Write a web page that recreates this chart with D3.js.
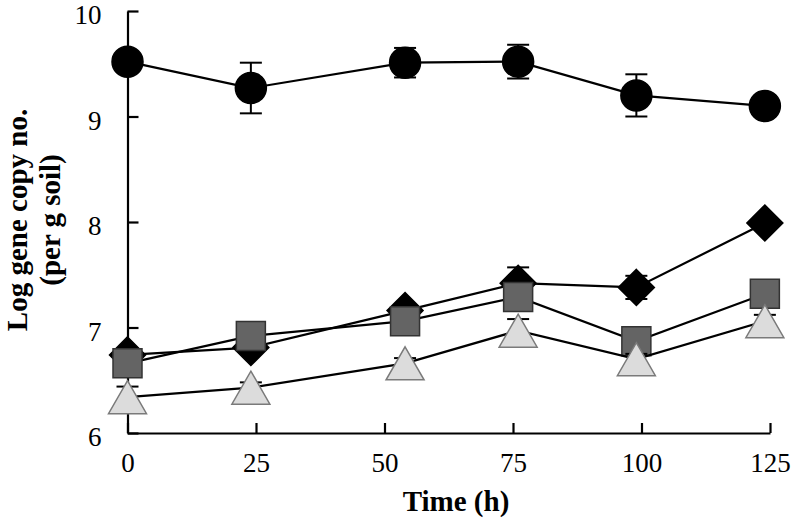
<!DOCTYPE html>
<html>
<head>
<meta charset="utf-8">
<script src="https://cdn.jsdelivr.net/npm/d3@7"></script>
<style>
  html, body { margin: 0; padding: 0; background: #fff; }
  svg { display: block; }
</style>
</head>
<body>
<svg id="chart" width="792" height="522"></svg>
<script>
// ---- data ----
const times = [0, 24, 54, 76, 99, 124];
const xTicks = [0, 25, 50, 75, 100, 125];
const yTicks = [6, 7, 8, 9, 10];

const circleVals = [9.52, 9.27, 9.51, 9.52, 9.20, 9.10];
const circleErr  = [0.05, 0.24, 0.14, 0.16, 0.20, 0.05];

const diamondVals = [6.74, 6.81, 7.16, 7.42, 7.38, 7.99];
const diamondErr  = [0.05, 0.05, 0.05, 0.15, 0.11, 0.05];

const squareVals = [6.66, 6.92, 7.06, 7.29, 6.87, 7.32];
const squareErr  = [0.05, 0.05, 0.05, 0.05, 0.05, 0.05];

const triangleVals = [6.34, 6.43, 6.66, 6.97, 6.70, 7.06];
const triangleErr  = [0.10, 0.05, 0.05, 0.11, 0.05, 0.06];

const xLabel = "Time (h)";
const yLabel1 = "Log gene copy no.";
const yLabel2 = "(per g soil)";

// ---- layout ----
const svg = d3.select("#chart");
const x = d3.scaleLinear().domain([0, 125]).range([127.5, 770]);
const y = d3.scaleLinear().domain([6, 10]).range([433, 11]);
const font = "'Liberation Serif', 'Times New Roman', serif";

// axes
const xAxis = d3.axisBottom(x).tickValues(xTicks).tickFormat(d3.format("d"))
  .tickSizeInner(-10).tickSizeOuter(0).tickPadding(20);
const yAxis = d3.axisLeft(y).tickValues(yTicks).tickFormat(d3.format("d"))
  .tickSizeInner(-11).tickSizeOuter(0).tickPadding(26);

const gx = svg.append("g").attr("transform", `translate(0,${y(6)})`).call(xAxis);
const gy = svg.append("g").attr("transform", `translate(${x(0)},0)`).call(yAxis);
[gx, gy].forEach(g => {
  g.selectAll("path.domain").attr("stroke", "#000").attr("stroke-width", 2.2);
  g.selectAll(".tick line").attr("stroke", "#000").attr("stroke-width", 2.2);
  g.selectAll(".tick text").attr("font-family", font).attr("font-size", 27).attr("fill", "#000");
});
gx.selectAll(".tick text").attr("dy", "0.71em");
gy.selectAll(".tick text").attr("dy", "0.47em");

// axis titles
svg.append("text")
  .attr("x", 456).attr("y", 511)
  .attr("text-anchor", "middle")
  .attr("font-family", font).attr("font-size", 29).attr("font-weight", "bold")
  .text(xLabel);

const yt = svg.append("g").attr("transform", "translate(0,220) rotate(-90)");
yt.append("text").attr("x", 0).attr("y", 27).attr("text-anchor", "middle")
  .attr("font-family", font).attr("font-size", 29).attr("font-weight", "bold").text(yLabel1);
yt.append("text").attr("x", 0).attr("y", 60).attr("text-anchor", "middle")
  .attr("font-family", font).attr("font-size", 29).attr("font-weight", "bold").text(yLabel2);

// ---- series ----
const series = [
  { vals: circleVals, err: circleErr, shape: "circle", fill: "#000", stroke: "#000" },
  { vals: diamondVals, err: diamondErr, shape: "diamond", fill: "#000", stroke: "#000" },
  { vals: squareVals, err: squareErr, shape: "square", fill: "#646464", stroke: "#333" },
  { vals: triangleVals, err: triangleErr, shape: "triangle", fill: "#dcdcdc", stroke: "#7a7a7a" }
];

function shapePath(shape) {
  if (shape === "circle") return "M-15.5,0A15.5,15.5 0 1,0 15.5,0A15.5,15.5 0 1,0 -15.5,0Z";
  if (shape === "diamond") return "M0,-18L18,0L0,18L-18,0Z";
  if (shape === "square") return "M-14.5,-14.5H14.5V14.5H-14.5Z";
  if (shape === "triangle") return "M0,-16.5L19,16.5L-19,16.5Z";
}

const line = d3.line().x((d, i) => x(times[i])).y(d => y(d));
const cap = 11;

series.forEach(s => {
  const g = svg.append("g");
  g.append("path").datum(s.vals).attr("d", line)
    .attr("fill", "none").attr("stroke", "#000").attr("stroke-width", 2.2);

  const eb = g.append("g");
  s.vals.forEach((v, i) => {
    const cx = x(times[i]);
    const y1 = y(v + s.err[i]), y2 = y(v - s.err[i]);
    eb.append("line").attr("x1", cx).attr("x2", cx).attr("y1", y1).attr("y2", y2)
      .attr("stroke", "#000").attr("stroke-width", 2);
    [y1, y2].forEach(yy => eb.append("line")
      .attr("x1", cx - cap).attr("x2", cx + cap).attr("y1", yy).attr("y2", yy)
      .attr("stroke", "#000").attr("stroke-width", 2));
  });

  g.selectAll("path.mk").data(s.vals).enter().append("path").attr("class", "mk")
    .attr("d", shapePath(s.shape))
    .attr("transform", (d, i) => `translate(${x(times[i])},${y(d)})`)
    .attr("fill", s.fill).attr("stroke", s.stroke).attr("stroke-width", 1.5);
});
</script>
</body>
</html>
